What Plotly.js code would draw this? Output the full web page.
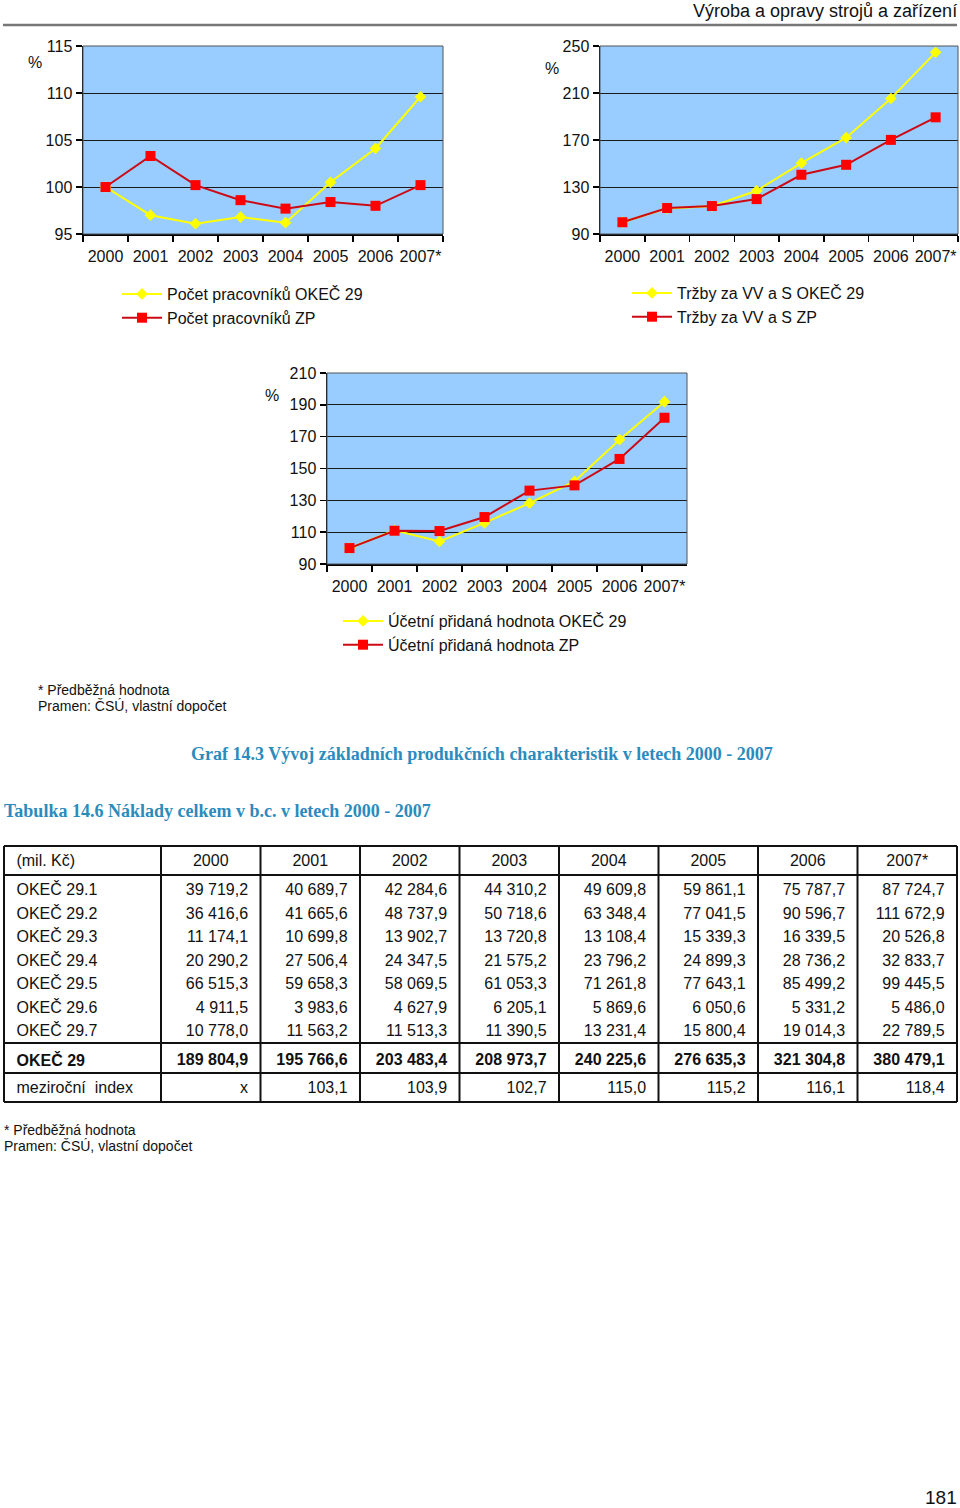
<!DOCTYPE html>
<html>
<head>
<meta charset="utf-8">
<script src="https://cdn.plot.ly/plotly-3.0.1.min.js"></script>
<style>
  body { margin: 0; background: #fff; }
  #page { width: 960px; height: 1508px; }
</style>
</head>
<body>
<div id="page"></div>
<script>
// page size
var W = 960, H = 1508;
function px(x) { return x / W; }
function py(y) { return 1 - y / H; }

// chart data (index, 2000 = 100)
var years = ['2000', '2001', '2002', '2003', '2004', '2005', '2006', '2007*'];
var pracOKEC = [100, 97.0, 96.1, 96.8, 96.2, 100.5, 104.1, 109.6];
var pracZP = [100, 103.3, 100.2, 98.6, 97.7, 98.4, 98.0, 100.2];
var trzbyOKEC = [100, 111.8, 113.6, 126.8, 150.3, 172.0, 205.3, 244.6];
var trzbyZP = [100, 112.1, 113.8, 119.7, 140.4, 148.9, 170.1, 189.3];
var pridanaOKEC = [100, 111.2, 104.2, 115.8, 128.3, 141.9, 168.1, 192.0];
var pridanaZP = [100, 110.9, 110.7, 119.5, 136.1, 139.4, 156.0, 181.9];

// table data
var tabHeader = ['(mil. Kč)', '2000', '2001', '2002', '2003', '2004', '2005', '2006', '2007*'];
var tabRowNames = ['OKEČ 29.1', 'OKEČ 29.2', 'OKEČ 29.3', 'OKEČ 29.4', 'OKEČ 29.5', 'OKEČ 29.6', 'OKEČ 29.7'];
var row291 = ['39 719,2', '40 689,7', '42 284,6', '44 310,2', '49 609,8', '59 861,1', '75 787,7', '87 724,7'];
var row292 = ['36 416,6', '41 665,6', '48 737,9', '50 718,6', '63 348,4', '77 041,5', '90 596,7', '111 672,9'];
var row293 = ['11 174,1', '10 699,8', '13 902,7', '13 720,8', '13 108,4', '15 339,3', '16 339,5', '20 526,8'];
var row294 = ['20 290,2', '27 506,4', '24 347,5', '21 575,2', '23 796,2', '24 899,3', '28 736,2', '32 833,7'];
var row295 = ['66 515,3', '59 658,3', '58 069,5', '61 053,3', '71 261,8', '77 643,1', '85 499,2', '99 445,5'];
var row296 = ['4 911,5', '3 983,6', '4 627,9', '6 205,1', '5 869,6', '6 050,6', '5 331,2', '5 486,0'];
var row297 = ['10 778,0', '11 563,2', '11 513,3', '11 390,5', '13 231,4', '15 800,4', '19 014,3', '22 789,5'];
var rowTotal = ['189 804,9', '195 766,6', '203 483,4', '208 973,7', '240 225,6', '276 635,3', '321 304,8', '380 479,1'];
var rowIndex = ['x', '103,1', '103,9', '102,7', '115,0', '115,2', '116,1', '118,4'];

var yellow = '#FFFF00';
var red = '#FF0000';
var redLine = '#CC0A14';
var blue = '#2B8BBD';
var font = 'Liberation Sans, Arial, Helvetica, sans-serif';
var serif = 'Liberation Serif, Times New Roman, serif';
var nb = '\u00a0';

function lineTrace(y, name, n, isRed) {
  return {
    x: years, y: y, name: name, type: 'scatter', mode: 'lines+markers',
    xaxis: n == 1 ? 'x' : 'x' + n, yaxis: n == 1 ? 'y' : 'y' + n,
    legend: n == 1 ? 'legend' : 'legend' + n,
    line: { color: isRed ? redLine : yellow, width: 2 },
    marker: isRed ? { symbol: 'square', size: 10, color: red } : { symbol: 'diamond', size: 9, color: yellow },
    hoverinfo: 'none'
  };
}

var data = [
  lineTrace(pracOKEC, 'Počet pracovníků OKEČ 29', 1, false),
  lineTrace(pracZP, 'Počet pracovníků ZP', 1, true),
  lineTrace(trzbyOKEC, 'Tržby za VV a S OKEČ 29', 2, false),
  lineTrace(trzbyZP, 'Tržby za VV a S ZP', 2, true),
  lineTrace(pridanaOKEC, 'Účetní přidaná hodnota OKEČ 29', 3, false),
  lineTrace(pridanaZP, 'Účetní přidaná hodnota ZP', 3, true)
];

// table
var colW = [157, 99.5, 99.5, 99.5, 99.5, 99.5, 99.5, 99.5, 99.5];
var tabLeft = 4, tabTop = 846, headH = 29, rowH = 24, totH = 30, idxH = 29;
var dataBottom = tabTop + headH + rowH * tabRowNames.length;
var tabBottom = dataBottom + totH + idxH;
var tabRight = tabLeft + colW.reduce(function (a, b) { return a + b; }, 0);

function padL(v) { return nb + v; }
function padR(v) { return v + nb; }

var rows = [row291, row292, row293, row294, row295, row296, row297];
var cols = [tabRowNames.map(padL)];
for (var c = 0; c < years.length; c++) {
  cols.push(rows.map(function (r) { return padR(r[c]); }));
}
var alignCells = ['left'].concat(years.map(function () { return 'right'; }));
var alignHead = ['left'].concat(years.map(function () { return 'center'; }));
var tabFont = { family: font, size: 16, color: '#111' };
var noLine = { color: 'rgba(0,0,0,0)', width: 0 };
var noFill = { color: 'rgba(0,0,0,0)' };

data.push({
  type: 'table',
  domain: { x: [px(tabLeft), px(tabRight)], y: [py(dataBottom), py(tabTop)] },
  columnwidth: colW,
  header: {
    values: [padL(tabHeader[0])].concat(tabHeader.slice(1)), align: alignHead, height: headH,
    fill: noFill, line: noLine, font: tabFont
  },
  cells: {
    values: cols, align: alignCells, height: rowH - 0.5,
    fill: noFill, line: noLine, font: tabFont
  }
});

// total row
data.push({
  type: 'table',
  domain: { x: [px(tabLeft), px(tabRight)], y: [py(dataBottom + totH), py(dataBottom)] },
  columnwidth: colW,
  header: {
    values: [padL('<b>OKEČ 29</b>')].concat(rowTotal.map(function (v) { return padR('<b>' + v + '</b>'); })),
    align: alignCells, height: totH,
    fill: noFill, line: noLine, font: tabFont
  },
  cells: { values: [] }
});

// year-on-year index row
data.push({
  type: 'table',
  domain: { x: [px(tabLeft), px(tabRight)], y: [py(tabBottom), py(dataBottom + totH)] },
  columnwidth: colW,
  header: {
    values: [padL('meziroční  index')].concat(rowIndex.map(padR)),
    align: alignCells, height: idxH,
    fill: noFill, line: noLine, font: tabFont
  },
  cells: { values: [] }
});

function xAxis(x0, x1, yname) {
  return {
    domain: [px(x0), px(x1)], anchor: yname, type: 'category', range: [-0.5, 7.5],
    showline: true, linecolor: '#000', linewidth: 1.5,
    ticks: 'outside', tickson: 'boundaries', ticklen: 6, tickcolor: '#000', tickwidth: 1.5,
    showgrid: false, ticklabelstandoff: 7, tickangle: 0,
    tickfont: { family: font, size: 16, color: '#111' }, fixedrange: true
  };
}
function yAxis(y0, y1, xname, lo, hi, step) {
  return {
    domain: [py(y1), py(y0)], anchor: xname, range: [lo, hi], dtick: step, tick0: lo,
    showline: true, linecolor: '#000', linewidth: 1.5,
    ticks: 'outside', ticklen: 6, tickcolor: '#000', tickwidth: 1.5,
    showgrid: true, gridcolor: '#1a1a1a', gridwidth: 1, zeroline: false,
    tickfont: { family: font, size: 16, color: '#111' }, fixedrange: true
  };
}

function legendAt(x, y) {
  return {
    x: px(x), y: py(y), xanchor: 'left', yanchor: 'top', bgcolor: 'rgba(0,0,0,0)',
    itemwidth: 40, tracegroupgap: 0,
    font: { family: font, size: 16, color: '#111' }
  };
}

function note(text, x, y, opts) {
  var a = {
    text: text, x: px(x), y: py(y), xref: 'paper', yref: 'paper', showarrow: false,
    xanchor: 'left', yanchor: 'middle', font: { family: font, size: 14, color: '#111' }
  };
  for (var k in opts) a[k] = opts[k];
  return a;
}

var shapes = [];
// plot frames
['', '2', '3'].forEach(function (n) {
  shapes.push({
    type: 'rect', xref: 'x' + n + ' domain', yref: 'y' + n + ' domain',
    x0: 0, x1: 1, y0: 0, y1: 1, line: { color: '#555', width: 1 }, layer: 'above'
  });
});
// header rule
shapes.push({ type: 'line', xref: 'paper', yref: 'paper', x0: px(3), x1: px(957), y0: py(25), y1: py(25),
  line: { color: '#777', width: 2.5 } });
// table lines
function hline(y) {
  shapes.push({ type: 'line', xref: 'paper', yref: 'paper', x0: px(tabLeft), x1: px(tabRight), y0: py(y), y1: py(y),
    line: { color: '#111', width: 2 } });
}
hline(tabTop); hline(tabTop + headH); hline(dataBottom); hline(dataBottom + totH); hline(tabBottom);
var cx = tabLeft;
for (var i = 0; i <= colW.length; i++) {
  shapes.push({ type: 'line', xref: 'paper', yref: 'paper', x0: px(cx), x1: px(cx), y0: py(tabTop), y1: py(tabBottom),
    line: { color: '#111', width: 2 } });
  if (i < colW.length) cx += colW[i];
}

var annotations = [
  note('Výroba a opravy strojů a zařízení', 959, 11, { xanchor: 'right', font: { family: 'Liberation Sans Narrow, Liberation Sans, Arial, sans-serif', size: 18, color: '#111' } }),
  note('%', 35, 63, { xanchor: 'center', font: { family: font, size: 16, color: '#111' } }),
  note('%', 552, 68, { xanchor: 'center', font: { family: font, size: 16, color: '#111' } }),
  note('%', 272, 395, { xanchor: 'center', font: { family: font, size: 16, color: '#111' } }),
  note('* Předběžná hodnota', 36, 690),
  note('Pramen: ČSÚ, vlastní dopočet', 36, 706),
  note('<b>Graf 14.3 Vývoj základních produkčních charakteristik v letech 2000 - 2007</b>', 482, 754,
    { xanchor: 'center', font: { family: serif, size: 18, color: blue } }),
  note('<b>Tabulka 14.6 Náklady celkem v b.c. v letech 2000 - 2007</b>', 2, 811,
    { font: { family: serif, size: 18, color: blue } }),
  note('* Předběžná hodnota', 2, 1130),
  note('Pramen: ČSÚ, vlastní dopočet', 2, 1146),
  note('181', 959, 1497, { xanchor: 'right', font: { family: font, size: 19, color: '#111' } })
];

var layout = {
  width: W, height: H,
  margin: { l: 0, r: 0, t: 0, b: 0 },
  paper_bgcolor: 'white', plot_bgcolor: '#99CCFF',
  showlegend: true,
  xaxis: xAxis(83, 443, 'y'),
  yaxis: yAxis(46, 234, 'x', 95, 115, 5),
  xaxis2: xAxis(600, 958, 'y2'),
  yaxis2: yAxis(46, 234, 'x2', 90, 250, 40),
  xaxis3: xAxis(327, 687, 'y3'),
  yaxis3: yAxis(373, 564, 'x3', 90, 210, 20),
  legend: legendAt(117, 277),
  legend2: legendAt(627, 276),
  legend3: legendAt(338, 604),
  shapes: shapes,
  annotations: annotations
};

Plotly.newPlot('page', data, layout, { staticPlot: true, displayModeBar: false });
</script>
</body>
</html>
